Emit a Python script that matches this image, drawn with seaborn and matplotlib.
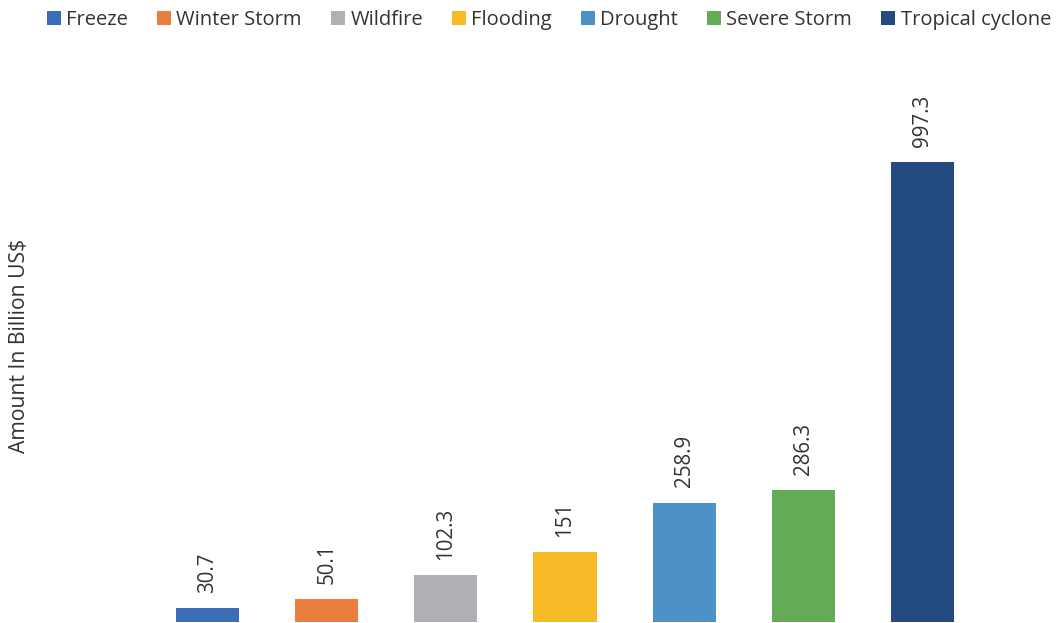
import matplotlib
matplotlib.use("Agg")
import matplotlib.pyplot as plt
import seaborn as sns
import pandas as pd

# Cumulative disaster costs by event type
categories = ["Freeze", "Winter Storm", "Wildfire", "Flooding", "Drought",
              "Severe Storm", "Tropical cyclone"]
amounts = [30.7, 50.1, 102.3, 151, 258.9, 286.3, 997.3]
colors = ["#3A6DB5", "#EA7E3C", "#AFB0B3", "#F7BB28", "#4C92C9",
          "#64AB55", "#234B80"]

sns.set_theme(style="white")
plt.rcParams["font.family"] = ["Open Sans", "DejaVu Sans"]

df = pd.DataFrame({"type": categories, "amount": amounts})

W, H = 1058, 623
fig = plt.figure(figsize=(W / 100, H / 100), dpi=100)
ax = fig.add_axes([148 / W, 1 / H, (982 - 148) / W, 553.5 / H])

sns.barplot(data=df, x="type", y="amount", hue="type", palette=colors,
            width=0.53, saturation=1, dodge=False, legend=True,
            linewidth=0, ax=ax)

ax.set_ylim(0, 1200)
ax.set_xlim(-0.5, len(categories) - 0.5)

text_col = "#333333"
for cont, v in zip(ax.containers, amounts):
    ax.bar_label(cont, labels=[f"{v:g}"], rotation=90, padding=11,
                 fontsize=14.8, color=text_col)

for s in ax.spines.values():
    s.set_visible(False)
ax.set_xticks([])
ax.set_yticks([])
ax.set_xlabel("")
ax.set_ylabel("")
fig.text(20 / W, 1 - 346 / H, "Amount In Billion US$", rotation=90,
         ha="center", va="center", fontsize=15.2, color=text_col)

sns.move_legend(ax, "upper center", bbox_to_anchor=(549 / W, 1.0),
                bbox_transform=fig.transFigure, ncol=7, frameon=False,
                title=None, fontsize=14.5, handlelength=0.7, handleheight=0.7,
                handletextpad=0.25, columnspacing=1.45, borderaxespad=0.1)
for t in ax.get_legend().get_texts():
    t.set_color(text_col)

fig.savefig("out.png", dpi=100)
